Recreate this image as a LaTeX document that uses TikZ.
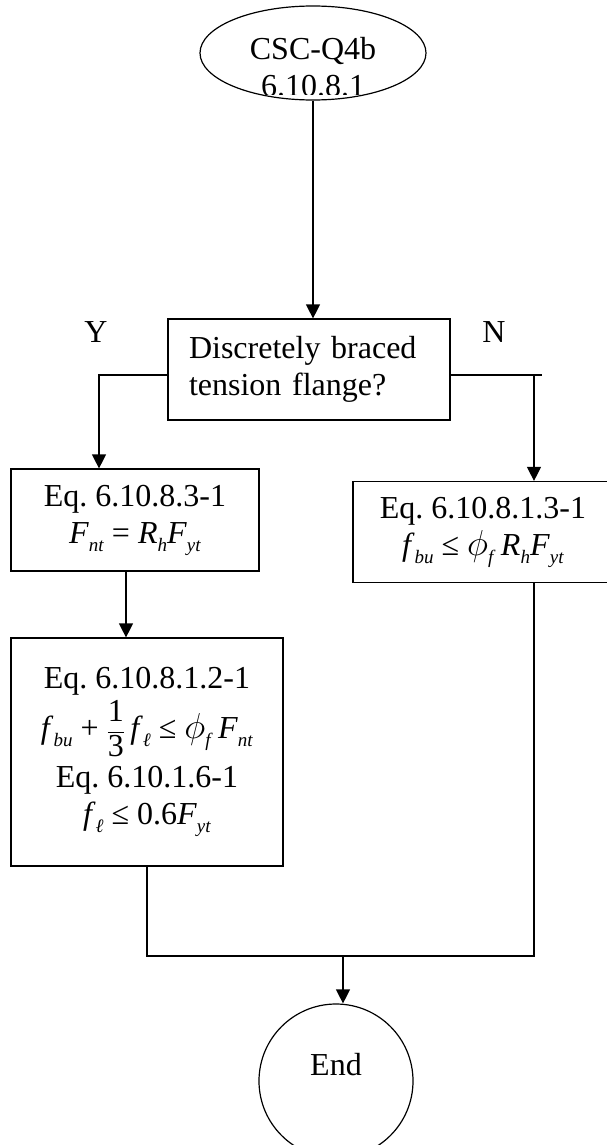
\documentclass[tikz,border=0pt]{standalone}
\usepackage{amsmath}
\usepackage{fontspec}
\setmainfont{Liberation Serif}
\usepackage{tikz}
\usetikzlibrary{arrows.meta,positioning,shapes.geometric}

% italic variable with small, lowered italic subscript
\newcommand{\vsub}[2]{\textit{#1}\raisebox{-8pt}{\fontsize{19}{19}\selectfont\textit{#2}}}
\newcommand{\phif}{\vsub{\scalebox{1.45}{$\phi$}}{f}}

\begin{document}
\frenchspacing
\begin{tikzpicture}[
  x=1pt, y=-1pt,
  line width=1.2pt,
  every node/.style={font=\fontsize{32}{37}\selectfont},
  box/.style={draw,rectangle,inner sep=0pt,align=center},
  arrow/.style={-{Triangle[length=14pt,width=14pt]}}
]
  \useasboundingbox (0,0) rectangle (607,1145);

  \coordinate (ybr) at (0,375);
  \coordinate (lx) at (99,0);
  \coordinate (cx) at (126,0);
  \coordinate (rx) at (534,0);
  \coordinate (yj) at (0,956);
  \coordinate (ex) at (343,0);

  % start
  \node[draw,ellipse,minimum width=226pt,minimum height=94pt,inner sep=0pt] (start) at (313,53) {};
  \begin{scope}
    \clip (0,0) rectangle (607,95);
    \node[anchor=base] (starta) at (313,60) {CSC-Q4b};
    \node[anchor=base] (startb) at (313,97) {6.10.8.1};
  \end{scope}

  % decision
  \node[box,minimum width=282pt,minimum height=101pt,text width=240pt,align=left] (dec) at (309,369.5)
    {Discretely braced\\tension flange?};
  \node[anchor=base] (yes) at (96,342) {Y};
  \node[anchor=base] (no) at (494,342) {N};

  % equations
  \node[box,minimum width=248pt,minimum height=102pt] (eq1) at (135,520)
    {Eq. 6.10.8.3-1\\\vsub{F}{nt} = \vsub{R}{h}\vsub{F}{yt}};
  \node[box,minimum width=260pt,minimum height=101pt] (eq2) at (483,532)
    {Eq. 6.10.8.1.3-1\\\vsub{f}{bu} ≤ \phif\,\vsub{R}{h}\vsub{F}{yt}};
  \node[box,minimum width=272pt,minimum height=228pt] (eq3) at (147,752)
    {Eq. 6.10.8.1.2-1\\[4pt]
     \vsub{f}{bu} + $\displaystyle\frac{\text{1}}{\text{3}}$\,\vsub{f}{ℓ} ≤ \phif\,\vsub{F}{nt}\\[8pt]
     Eq. 6.10.1.6-1\\
     \vsub{f}{ℓ} ≤ 0.6\vsub{F}{yt}};

  % end
  \node[draw,circle,minimum size=154pt,inner sep=0pt,text depth=34pt] (end) at (336,1081) {End};

  \draw[arrow] (start.south) -- (start.south |- dec.north);
  \draw[arrow] (dec.west |- ybr) -| (lx |- eq1.north);
  \draw (dec.east |- ybr) -- ([xshift=8pt]rx |- ybr);
  \draw[arrow] (rx |- ybr) -- (rx |- eq2.north);
  \draw[arrow] (cx |- eq1.south) -- (cx |- eq3.north);
  \draw (eq3.south) |- (rx |- yj) -- (rx |- eq2.south);
  \draw[arrow] (ex |- yj) -- (ex |- end.north);
\end{tikzpicture}
\end{document}
